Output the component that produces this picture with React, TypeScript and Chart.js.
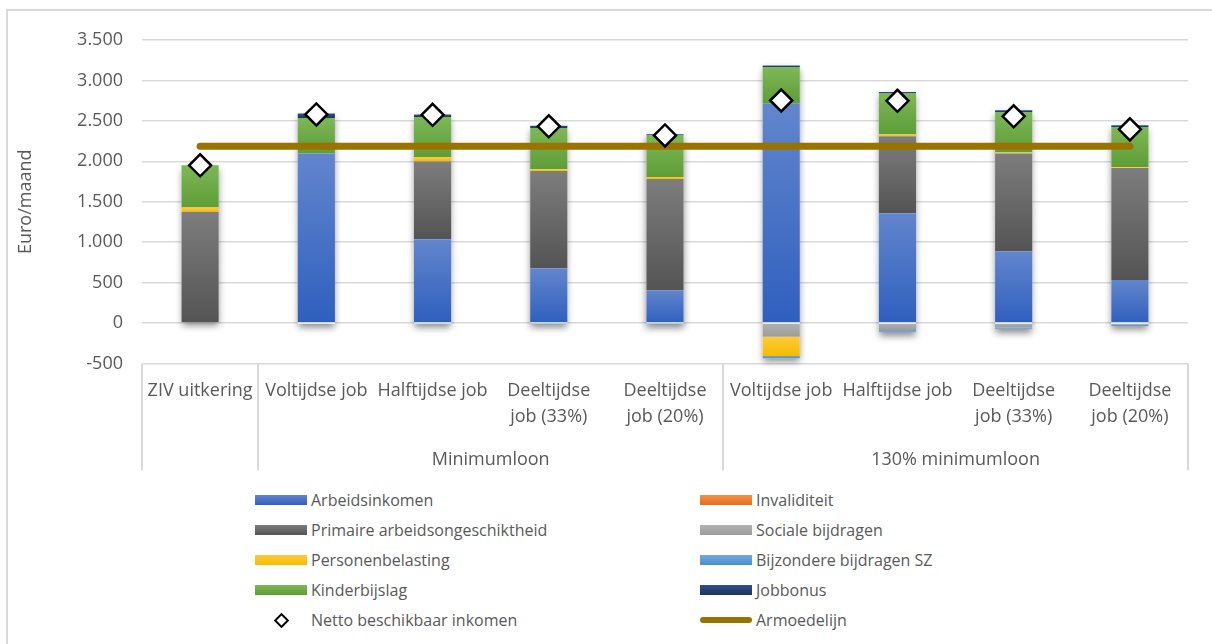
import React, { useEffect, useRef } from 'react';
import { Chart, registerables } from 'chart.js';
Chart.register(...registerables);

const categories: string[][] = [
  ['ZIV uitkering'],
  ['Voltijdse job'],
  ['Halftijdse job'],
  ['Deeltijdse', 'job (33%)'],
  ['Deeltijdse', 'job (20%)'],
  ['Voltijdse job'],
  ['Halftijdse job'],
  ['Deeltijdse', 'job (33%)'],
  ['Deeltijdse', 'job (20%)'],
];
const groupLabels = ['', 'Minimumloon', '130% minimumloon'];
const groupStart = [0, 1, 5];
const groupEnd = [0, 4, 8];

const arbeidsinkomen = [0, 2096, 1037, 679, 407, 2713, 1358, 889, 531];
const invaliditeit = [0, 0, 0, 0, 0, 0, 0, 0, 0];
const primaireArbeidsongeschiktheid = [1375, 0, 963, 1202, 1375, 0, 951, 1207, 1387];
const socialeBijdragen = [0, 0, 0, 0, 0, -170, -86, -53, -20];
const personenbelasting = [55, 0, 54, 21, 25, -237, 21, 14, 12];
const bijzondereBijdragenSZ = [0, -8, -6, -3, -2, -29, -21, -17, -17];
const kinderbijslag = [520, 440, 494, 510, 511, 453, 507, 500, 494];
const jobbonus = [0, 55, 30, 29, 16, 20, 20, 21, 21];
const nettoBeschikbaarInkomen = [1950, 2580, 2575, 2433, 2320, 2752, 2748, 2556, 2395];
const armoedelijn = [2187, 2187, 2187, 2187, 2187, 2187, 2187, 2187, 2187];

const yTicks = [-500, 0, 500, 1000, 1500, 2000, 2500, 3000, 3500];

const barSeries = [
  { label: 'Arbeidsinkomen', data: arbeidsinkomen, top: '#6286cd', bottom: '#2f5fbe' },
  { label: 'Invaliditeit', data: invaliditeit, top: '#f28f4c', bottom: '#e86f1a' },
  { label: 'Primaire arbeidsongeschiktheid', data: primaireArbeidsongeschiktheid, top: '#7d7d7d', bottom: '#545454' },
  { label: 'Sociale bijdragen', data: socialeBijdragen, top: '#b2b2b2', bottom: '#9c9c9c' },
  { label: 'Personenbelasting', data: personenbelasting, top: '#ffcb38', bottom: '#f6bb00' },
  { label: 'Bijzondere bijdragen SZ', data: bijzondereBijdragenSZ, top: '#72a9dd', bottom: '#4a8dcf' },
  { label: 'Kinderbijslag', data: kinderbijslag, top: '#7db857', bottom: '#5e9d37' },
  { label: 'Jobbonus', data: jobbonus, top: '#2e4f88', bottom: '#1c3563' },
];

const FONT = '"Open Sans", sans-serif';
const TEXT = '#595959';

function fmt(v: number): string {
  const s = String(Math.abs(v)).replace(/\B(?=(\d{3})+(?!\d))/g, '.');
  return v < 0 ? '-' + s : s;
}

function gradientFor(d: number) {
  return (c: any) => {
    const s = barSeries[d];
    const chart = c.chart;
    const y = chart.scales && chart.scales.y;
    if (!y || c.type !== 'data') return s.top;
    const i = c.dataIndex;
    const v = s.data[i];
    let base = 0;
    for (let k = 0; k < d; k++) {
      const w = barSeries[k].data[i];
      if (v >= 0 ? w > 0 : w < 0) base += w;
    }
    const a = y.getPixelForValue(Math.max(base, base + v));
    const b = y.getPixelForValue(Math.min(base, base + v));
    if (!isFinite(a) || !isFinite(b) || b - a < 1) return s.top;
    const g = chart.ctx.createLinearGradient(0, a, 0, b);
    g.addColorStop(0, s.top);
    g.addColorStop(1, s.bottom);
    return g;
  };
}

const shadowPlugin = {
  id: 'barShadow',
  beforeDatasetsDraw(chart: any) {
    const ctx = chart.ctx;
    const n = categories.length;
    ctx.save();
    for (let i = 0; i < n; i++) {
      let top = Infinity, bot = -Infinity, x = 0, w = 0;
      barSeries.forEach((_, d) => {
        const el = chart.getDatasetMeta(d).data[i];
        if (!el) return;
        const v = barSeries[d].data[i];
        if (v === 0) return;
        x = el.x; w = el.width;
        top = Math.min(top, el.y, el.base);
        bot = Math.max(bot, el.y, el.base);
      });
      if (!isFinite(top)) continue;
      ctx.shadowColor = 'rgba(0,0,0,0.45)';
      ctx.shadowBlur = 7;
      ctx.shadowOffsetX = 0;
      ctx.shadowOffsetY = 4;
      ctx.fillStyle = '#ffffff';
      ctx.fillRect(x - w / 2, top, w, bot - top);
    }
    ctx.restore();
  },
};

const groupPlugin = {
  id: 'groupAxis',
  afterDraw(chart: any) {
    const ctx = chart.ctx;
    const xs = chart.scales.x;
    const area = chart.chartArea;
    const half = (xs.getPixelForValue(1) - xs.getPixelForValue(0)) / 2;
    const yTop = area.bottom;
    const yBot = area.bottom + 107;
    ctx.save();
    ctx.strokeStyle = '#d9d9d9';
    ctx.lineWidth = 2;
    const bounds = new Set<number>();
    groupStart.forEach((s, g) => {
      bounds.add(Math.round(xs.getPixelForValue(s) - half));
      bounds.add(Math.round(xs.getPixelForValue(groupEnd[g]) + half));
    });
    bounds.forEach((bx) => {
      ctx.beginPath();
      ctx.moveTo(bx, yTop);
      ctx.lineTo(bx, yBot);
      ctx.stroke();
    });
    ctx.fillStyle = TEXT;
    ctx.font = '18px ' + FONT;
    ctx.textAlign = 'center';
    ctx.textBaseline = 'middle';
    groupLabels.forEach((lab, g) => {
      if (!lab) return;
      const cx = (xs.getPixelForValue(groupStart[g]) + xs.getPixelForValue(groupEnd[g])) / 2;
      ctx.fillText(lab, cx, area.bottom + 96);
    });
    ctx.restore();
  },
};

function LegendSwatch({ kind, top, bottom }: { kind: string; top?: string; bottom?: string }) {
  if (kind === 'diamond') {
    return (
      <div style={{ width: 52, height: 14, display: 'flex', alignItems: 'center', justifyContent: 'center' }}>
        <div style={{ width: 7, height: 7, border: '2px solid #000', background: '#fff', transform: 'rotate(45deg)' }} />
      </div>
    );
  }
  if (kind === 'line') {
    return (
      <div style={{ width: 52, height: 14, display: 'flex', alignItems: 'center' }}>
        <div style={{ width: 52, height: 6, borderRadius: 3, background: '#997300' }} />
      </div>
    );
  }
  return (
    <div style={{ width: 52, height: 14, display: 'flex', alignItems: 'center' }}>
      <div style={{ width: 52, height: 10, background: `linear-gradient(${top}, ${bottom})` }} />
    </div>
  );
}

export default function App() {
  const ref = useRef<HTMLCanvasElement>(null);

  useEffect(() => {
    if (!ref.current) return;
    const datasets: any[] = barSeries.map((s, d) => ({
      type: 'bar',
      label: s.label,
      data: s.data,
      backgroundColor: gradientFor(d),
      borderWidth: 0,
      categoryPercentage: 1,
      barPercentage: 0.32,
      order: 2,
    }));
    datasets.push({
      type: 'line',
      label: 'Armoedelijn',
      data: armoedelijn,
      borderColor: '#997300',
      backgroundColor: '#997300',
      borderWidth: 7,
      borderCapStyle: 'round',
      pointRadius: 0,
      stack: 'armoede',
      order: 1,
    });
    datasets.push({
      type: 'line',
      label: 'Netto beschikbaar inkomen',
      data: nettoBeschikbaarInkomen,
      showLine: false,
      pointStyle: 'rectRot',
      pointRadius: 11,
      pointBackgroundColor: '#ffffff',
      pointBorderColor: '#000000',
      pointBorderWidth: 2.5,
      stack: 'netto',
      order: 0,
    });

    const chart = new Chart(ref.current, {
      type: 'bar',
      data: { labels: categories as any, datasets },
      plugins: [shadowPlugin, groupPlugin],
      options: {
        responsive: false,
        animation: false,
        devicePixelRatio: 1,
        layout: { padding: { left: 0, right: 24, top: 40, bottom: 0 } },
        plugins: {
          legend: { display: false },
          tooltip: { enabled: false },
        },
        scales: {
          x: {
            stacked: true,
            grid: { display: false, drawTicks: false },
            border: { display: false },
            ticks: {
              color: TEXT,
              font: { family: FONT, size: 18, lineHeight: 1.45 },
              padding: 14,
              maxRotation: 0,
              minRotation: 0,
              autoSkip: false,
            },
            afterFit: (s: any) => { s.height = 116.5; },
          },
          y: {
            stacked: true,
            min: -500,
            max: 3500,
            afterBuildTicks: (s: any) => { s.ticks = yTicks.map((v) => ({ value: v })); },
            grid: { color: '#d9d9d9', lineWidth: 1.5, drawTicks: false },
            border: { display: false },
            ticks: {
              color: TEXT,
              font: { family: FONT, size: 18 },
              padding: 19,
              callback: (v: any) => fmt(Number(v)),
            },
            title: {
              display: true,
              text: 'Euro/maand',
              color: TEXT,
              font: { family: FONT, size: 18 },
              padding: { top: 15, bottom: 0 },
            },
            afterFit: (s: any) => { s.width = 142; },
          },
        },
      },
    });
    return () => chart.destroy();
  }, []);

  const legendItems = [
    ...barSeries.map((s) => ({ label: s.label, kind: 'bar', top: s.top, bottom: s.bottom })),
    { label: 'Netto beschikbaar inkomen', kind: 'diamond', top: '', bottom: '' },
    { label: 'Armoedelijn', kind: 'line', top: '', bottom: '' },
  ];

  return (
    <div style={{ position: 'absolute', left: 0, top: 0, width: 1212, height: 644, overflow: 'hidden', background: '#fff' }}>
      <div style={{ position: 'absolute', left: 6, top: 9, width: 1400, height: 800, borderLeft: '2px solid #d9d9d9', borderTop: '2px solid #d9d9d9' }} />
      <canvas ref={ref} width={1212} height={480} style={{ position: 'absolute', left: 0, top: 0, width: 1212, height: 480 }} />
      {legendItems.map((it, k) => {
        const col = k % 2;
        const row = Math.floor(k / 2);
        return (
          <div
            key={it.label}
            style={{
              position: 'absolute',
              left: col === 0 ? 255 : 700,
              top: 500 + row * 30 - 11,
              height: 22,
              display: 'flex',
              alignItems: 'center',
              fontFamily: FONT,
              fontSize: 16,
              color: TEXT,
              whiteSpace: 'nowrap',
            }}
          >
            <LegendSwatch kind={it.kind} top={it.top} bottom={it.bottom} />
            <span style={{ marginLeft: 4 }}>{it.label}</span>
          </div>
        );
      })}
    </div>
  );
}
